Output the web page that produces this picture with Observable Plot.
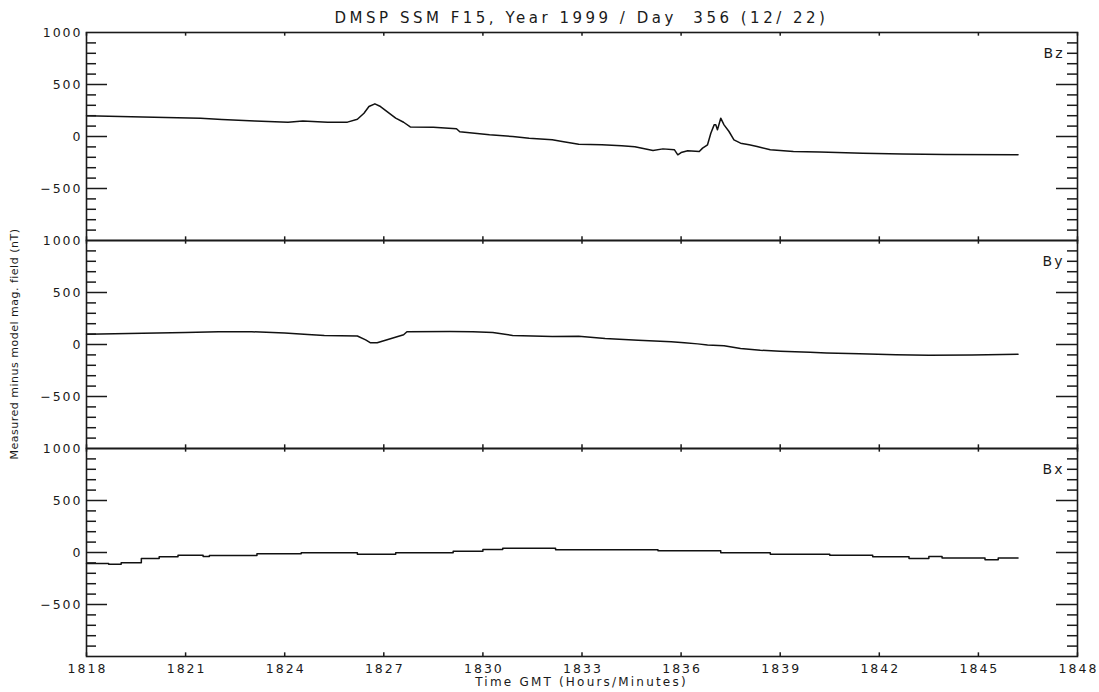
<!DOCTYPE html>
<html><head><meta charset="utf-8">
<script src="https://cdn.jsdelivr.net/npm/d3@7"></script>
<script src="https://cdn.jsdelivr.net/npm/@observablehq/plot@0.6"></script>
<style>
body{margin:0;background:#fff;font-family:"DejaVu Sans",sans-serif;color:#1a1a1a;width:1099px;height:692px;overflow:hidden;position:relative}
#title{position:absolute;left:86px;width:991px;top:0;height:31px;text-align:center;font-size:15px;letter-spacing:3.5px;line-height:18px;padding-top:9px;box-sizing:border-box;z-index:2;white-space:pre}
#xlabel{height:20px;line-height:20px;padding-left:86px;width:991px;text-align:center;font-size:12px;letter-spacing:2.2px;white-space:pre}
#ylabel{position:absolute;left:14px;top:344px;transform:translate(-50%,-50%) rotate(-90deg);font-size:11px;letter-spacing:0.5px;white-space:nowrap;z-index:2}
</style></head>
<body>
<div id="title">DMSP SSM F15, Year 1999 / Day  356 (12/ 22)</div>
<div id="ylabel">Measured minus model mag. field (nT)</div>
<div id="chart"></div>
<div id="xlabel">Time GMT (Hours/Minutes)</div>
<script>
// components (panels, top to bottom)
const comps = ["Bz", "By", "Bx"];
// time = minutes after 18:00 GMT
const bzT = [18,19.7,21.45,22.1,23.1,24.1,24.55,25.3,25.9,26.2,26.4,26.55,26.73,26.9,27.1,27.36,27.6,27.8,28.5,29.2,29.3,30.2,30.9,31.4,32.1,32.4,32.9,33.6,34.2,34.6,35.15,35.45,35.8,35.9,36.0,36.2,36.55,36.65,36.8,36.9,37.0,37.05,37.1,37.2,37.3,37.45,37.6,37.8,38.06,38.3,38.7,39.4,40.2,41.5,42.7,44.0,46.2];
const bzV = [200,188,176,164,150,138,150,138,138,166,224,288,314,288,240,176,137,92,88,75,45,16,0,-16,-32,-48,-74,-80,-90,-99,-134,-119,-128,-176,-154,-138,-144,-112,-80,32,112,112,64,176,112,48,-32,-64,-80,-96,-128,-144,-148,-160,-168,-174,-176];
const byT = [18,19.7,21,22,23,24,24.7,25.2,26.2,26.45,26.6,26.8,27.2,27.6,27.7,29,29.7,30.3,30.9,32.1,32.9,33.7,34.7,35.7,36.1,36.5,36.8,37.3,37.8,38.4,39,39.9,40.4,41.4,42.5,43.5,44.8,46.2];
const byV = [98,108,115,122,123,110,96,87,82,45,16,16,55,93,123,125,122,116,87,77,80,58,42,26,16,6,-4,-13,-39,-55,-65,-74,-81,-90,-98,-104,-100,-94];
const bxT = [18,18.67,19.05,19.66,20.2,20.77,21.53,21.72,23.16,24.5,26.2,27.36,29.1,30,30.6,32.2,35.3,37.2,38.7,40.5,41.8,42.9,43.5,43.9,45.2,45.6,46.2];
const bxV = [-105,-112,-99,-58,-42,-26,-38,-29,-13,-3,-16,-3,13,29,42,26,16,-3,-16,-26,-42,-58,-38,-54,-70,-54,-54];
// axes
const xTickVals = [18,21,24,27,30,33,36,39,42,45,48];
const xTickLabels = ["1818","1821","1824","1827","1830","1833","1836","1839","1842","1845","1848"];
const yLabelVals = [1000,500,0,-500];
const yLabelText = ["1000","500","0","\u2212500"];
const yMajor = [500,0,-500];
const yMinor = [900,800,700,600,400,300,200,100,-100,-200,-300,-400,-600,-700,-800,-900];

const rows = (c, T, V) => T.map((t, i) => ({comp: c, t, v: V[i]}));
const bz = rows("Bz", bzT, bzV), by = rows("By", byT, byV), bx = rows("Bx", bxT, bxV);

const width = 1099, height = 672, mt = 31, mb = 16, ml = 86, mr = 22;
const W = width - ml - mr, H = (height - mt - mb) / 3;
const ink = "#1a1a1a";

const chart = Plot.plot({
  width, height, marginTop: mt, marginBottom: mb, marginLeft: ml, marginRight: mr,
  style: {fontFamily: "DejaVu Sans", color: ink, background: "white", letterSpacing: "2px", overflow: "visible"},
  x: {domain: [18, 48], axis: null},
  y: {domain: [-1000, 1000], axis: null},
  fy: {domain: comps, padding: 0, axis: null},
  marks: [
    Plot.line(bz, {x: "t", y: "v", fy: "comp", stroke: "#111", strokeWidth: 1.5}),
    Plot.line(by, {x: "t", y: "v", fy: "comp", stroke: "#111", strokeWidth: 1.5}),
    Plot.line(bx, {x: "t", y: "v", fy: "comp", stroke: "#111", strokeWidth: 1.5, curve: "step-after"}),
    // y ticks, left and right, pointing inward
    Plot.tickY(yMinor, {y: d => d, insetRight: W - 10, stroke: ink, strokeWidth: 1.5}),
    Plot.tickY(yMajor, {y: d => d, insetRight: W - 21, stroke: ink, strokeWidth: 1.5}),
    Plot.tickY(yMinor, {y: d => d, insetLeft: W - 10, stroke: ink, strokeWidth: 1.5}),
    Plot.tickY(yMajor, {y: d => d, insetLeft: W - 21, stroke: ink, strokeWidth: 1.5}),
    // x ticks top and bottom of each panel
    Plot.tickX(xTickVals, {x: d => d, insetBottom: H - 4, stroke: ink, strokeWidth: 1.5}),
    Plot.tickX(xTickVals, {x: d => d, insetTop: H - 4, stroke: ink, strokeWidth: 1.5}),
    Plot.frame({stroke: ink, strokeWidth: 1.6}),
    // y tick labels
    Plot.text(yLabelVals, {y: d => d, text: d => yLabelText[yLabelVals.indexOf(d)], frameAnchor: "left", textAnchor: "end", dx: -4, fontSize: 12.5, fill: ink}),
    // x tick labels (bottom panel only)
    Plot.text(xTickVals, {x: d => d, fy: () => "Bx", text: d => xTickLabels[xTickVals.indexOf(d)], frameAnchor: "bottom", dy: 16, dx: 1, fontSize: 12.5, fill: ink}),
    // panel labels
    Plot.text(comps, {fy: d => d, text: d => d, frameAnchor: "top-right", textAnchor: "end", dx: -13, dy: 16, fontSize: 14, fill: ink})
  ]
});
document.getElementById("chart").appendChild(chart);
</script>
</body></html>
